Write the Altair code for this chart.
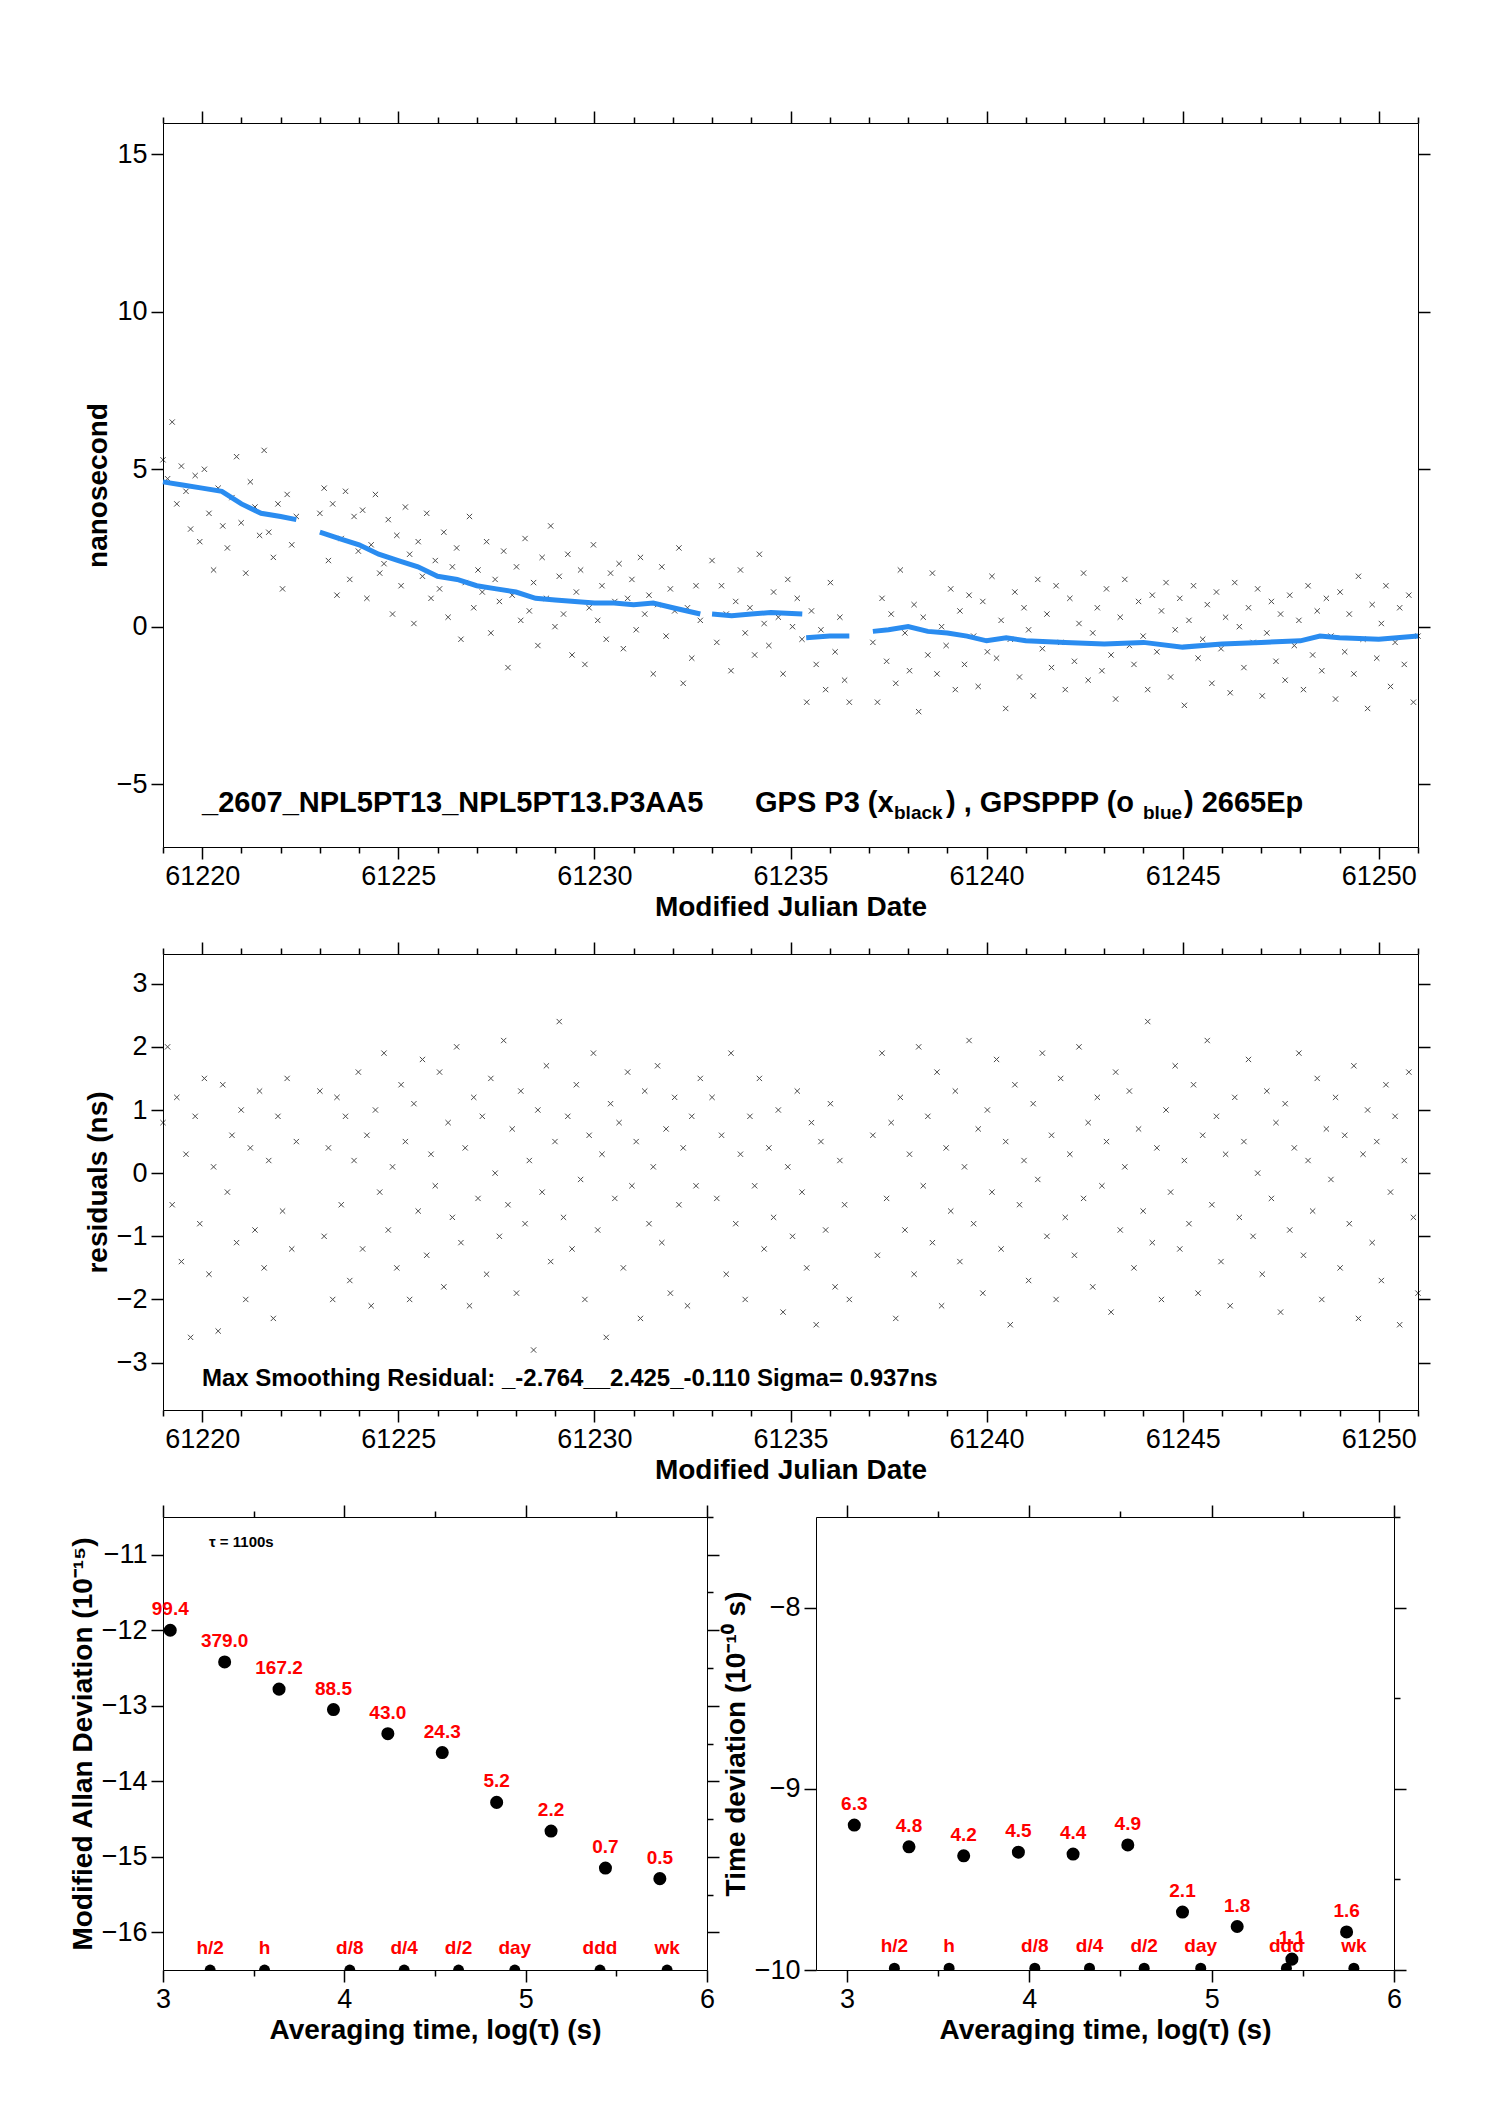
import altair as alt
import numpy as np
import pandas as pd

# segments of the GPS P3 record (MJD start, end)
seg_start = [61219.0, 61223.0, 61233.0, 61237.1]
seg_end = [61222.4, 61232.7, 61236.5, 61251.0]

raw_a = [5.3, 4.7, 6.5, 3.9, 5.1, 4.3, 3.1, 4.8, 2.7, 5.0, 3.6, 1.8, 4.4, 3.2, 2.5,
         4.1, 5.4, 3.3, 1.7, 4.6, 3.8, 2.9, 5.6, 3.0, 2.2, 3.9, 1.2, 4.2, 2.6, 3.5]
raw_b = [3.6, 4.4, 2.1, 3.9, 1.0, 2.8, 4.3, 1.5, 3.5, 2.4, 3.7, 0.9, 2.6, 4.2, 1.7,
         2.0, 3.4, 0.4, 2.9, 1.3, 3.8, 2.3, 0.1, 2.7, 1.6, 3.6, 0.9, 2.1, 1.2, 3.0,
         0.3, 1.9, 2.5, -0.4, 1.4, 3.5, 0.6, 1.8, 1.1, 2.7, -0.2, 1.5, 0.8, 2.4, -1.3,
         1.0, 1.9, 0.2, 2.8, 0.5, 1.4, -0.6, 2.2, 0.9, 3.2, 0.0, 1.6, 0.4, 2.3, -0.9,
         1.1, 1.8, -1.2, 0.6, 2.6, 0.2, 1.3, -0.4, 1.7, 0.8, 2.0, -0.7, 0.9, 1.5, -0.1,
         2.2, 0.4, 1.0, -1.5, 0.7, 1.9, -0.3, 1.2, 0.5, 2.5, -1.8, 0.6, -1.0, 1.3, 0.2]
raw_c = [2.1, -0.5, 1.3, 0.4, -1.4, 0.8, 1.8, -0.2, 0.6, -0.9, 2.3, 0.1, -0.6, 1.1, 0.3,
         -1.5, 1.5, 0.0, 0.9, -0.4, -2.4, 0.5, -1.2, -0.1, -2.0, 1.4, -0.8, 0.3, -1.7, -2.4]
raw_d = [-0.5, -2.4, 0.9, -1.1, 0.4, -1.8, 1.8, -0.2, -1.4, 0.7, -2.7, 0.3, -0.9, 1.7, -1.5,
         0.0, -0.6, 1.2, -2.0, 0.5, -1.2, 1.0, -0.3, -1.9, 0.8, -0.8, 1.6, -1.0, 0.2, -2.6,
         -0.4, 1.1, -1.6, 0.6, -0.1, -2.2, 1.5, -0.7, 0.4, -1.3, 1.3, -0.5, -2.0, 0.9, -1.1,
         0.1, 1.7, -1.7, -0.2, 0.6, -1.4, 1.2, -0.9, -2.3, 0.3, 1.5, -0.6, -1.2, 0.8, -0.3,
         -2.0, 1.0, -0.8, 0.5, 1.4, -1.6, -0.1, 0.9, -2.5, 0.2, 1.3, -1.0, -0.4, 0.7, -1.8,
         1.1, -0.7, 0.3, -2.1, 1.4, 0.0, -1.3, 0.6, -0.5, 1.2, -2.2, -0.2, 0.8, -1.1, 0.4,
         -1.7, 1.0, -0.6, 0.2, -2.0, 1.3, -0.9, 0.5, -1.4, 0.9, -0.3, -2.3, 1.1, -0.8, 0.4,
         -1.5, 1.6, -0.4, -2.6, 0.7, -1.0, 0.1, 1.3, -1.9, -0.5, 0.6, -1.2, 1.0, -2.4, -0.3]

res_a = [0.8, 2.0, -0.5, 1.2, -1.4, 0.3, -2.6, 0.9, -0.8, 1.5, -1.6, 0.1, -2.5, 1.4, -0.3,
         0.6, -1.1, 1.0, -2.0, 0.4, -0.9, 1.3, -1.5, 0.2, -2.3, 0.9, -0.6, 1.5, -1.2, 0.5]
res_b = [1.3, -1.0, 0.4, -2.0, 1.2, -0.5, 0.9, -1.7, 0.2, 1.6, -1.2, 0.6, -2.1, 1.0, -0.3,
         1.9, -0.9, 0.1, -1.5, 1.4, 0.5, -2.0, 1.1, -0.6, 1.8, -1.3, 0.3, -0.2, 1.6, -1.8,
         0.8, -0.7, 2.0, -1.1, 0.4, -2.1, 1.2, -0.4, 0.9, -1.6, 1.5, 0.0, -1.0, 2.1, -0.5,
         0.7, -1.9, 1.3, -0.8, 0.2, -2.8, 1.0, -0.3, 1.7, -1.4, 0.5, 2.4, -0.7, 0.9, -1.2,
         1.4, -0.1, -2.0, 0.6, 1.9, -0.9, 0.3, -2.6, 1.1, -0.4, 0.8, -1.5, 1.6, -0.2, 0.5,
         -2.3, 1.3, -0.8, 0.1, 1.7, -1.1, 0.7, -1.9, 1.2, -0.5, 0.4, -2.1, 0.9, -0.2, 1.5]
res_c = [1.2, -0.4, 0.6, -1.6, 1.9, -0.8, 0.3, -2.0, 0.9, -0.2, 1.5, -1.2, 0.4, -0.7, 1.0,
         -2.2, 0.1, -1.0, 1.3, -0.3, -1.5, 0.8, -2.4, 0.5, -0.9, 1.1, -1.8, 0.2, -0.5, -2.0]
res_d = [0.6, -1.3, 1.9, -0.4, 0.8, -2.3, 1.2, -0.9, 0.3, -1.6, 2.0, -0.2, 0.9, -1.1, 1.6,
         -2.1, 0.4, -0.6, 1.3, -1.4, 0.1, 2.1, -0.8, 0.7, -1.9, 1.0, -0.3, 1.8, -1.2, 0.5,
         -2.4, 1.4, -0.5, 0.2, -1.7, 1.1, -0.1, 1.9, -1.0, 0.6, -2.0, 1.5, -0.7, 0.3, -1.3,
         2.0, -0.4, 0.8, -1.8, 1.2, -0.2, 0.5, -2.2, 1.6, -0.9, 0.1, 1.3, -1.5, 0.7, -0.6,
         2.4, -1.1, 0.4, -2.0, 1.0, -0.3, 1.7, -1.2, 0.2, -0.8, 1.4, -1.9, 0.6, 2.1, -0.5,
         0.9, -1.4, 0.3, -2.1, 1.2, -0.7, 0.5, 1.8, -1.0, 0.0, -1.6, 1.3, -0.4, 0.8, -2.2,
         1.1, -0.9, 0.4, 1.9, -1.3, 0.2, -0.6, 1.5, -2.0, 0.7, -0.1, 1.2, -1.5, 0.6, -0.8,
         1.7, -2.3, 0.3, 1.0, -1.1, 0.5, -1.7, 1.4, -0.3, 0.9, -2.4, 0.2, 1.6, -0.7, -1.9]

# smoothed GPSPPP curve (blue), one knot list per segment
smooth_x = [
    [61219.0, 61219.5, 61220.0, 61220.5, 61221.0, 61221.5, 61222.0, 61222.4],
    [61223.0, 61223.5, 61224.0, 61224.5, 61225.0, 61225.5, 61226.0, 61226.5, 61227.0, 61227.5,
     61228.0, 61228.5, 61229.0, 61229.5, 61230.0, 61230.5, 61231.0, 61231.5, 61232.0, 61232.7],
    [61233.0, 61233.5, 61234.0, 61234.5, 61235.3],
    [61235.4, 61236.0, 61236.5],
    [61237.1, 61237.5, 61238.0, 61238.5, 61239.0, 61239.5, 61240.0, 61240.5, 61241.0, 61242.0,
     61243.0, 61244.0, 61245.0, 61246.0, 61247.0, 61248.0, 61248.5, 61249.0, 61250.0, 61251.0],
]
smooth_y = [
    [4.6, 4.5, 4.4, 4.3, 3.9, 3.6, 3.5, 3.4],
    [3.0, 2.8, 2.6, 2.3, 2.1, 1.9, 1.6, 1.5, 1.3, 1.2,
     1.1, 0.9, 0.85, 0.8, 0.75, 0.75, 0.7, 0.75, 0.6, 0.4],
    [0.4, 0.35, 0.4, 0.45, 0.4],
    [-0.35, -0.3, -0.3],
    [-0.15, -0.1, 0.0, -0.15, -0.2, -0.3, -0.45, -0.35, -0.45, -0.5,
     -0.55, -0.5, -0.65, -0.55, -0.5, -0.45, -0.3, -0.35, -0.4, -0.3],
]

# Allan / time deviation results
log_tau = [3.04, 3.34, 3.64, 3.94, 4.24, 4.54, 4.84, 5.14, 5.44, 5.74]
mdev = [-12.0, -12.42, -12.78, -13.05, -13.37, -13.62, -14.28, -14.66, -15.15, -15.29]
mdev_lbl = ["99.4", "379.0", "167.2", "88.5", "43.0", "24.3", "5.2", "2.2", "0.7", "0.5"]
tdev = [-9.2, -9.32, -9.37, -9.35, -9.36, -9.31, -9.68, -9.76, -9.94, -9.79]
tdev_lbl = ["6.3", "4.8", "4.2", "4.5", "4.4", "4.9", "2.1", "1.8", "1.1", "1.6"]
mark_x = [3.26, 3.56, 4.03, 4.33, 4.63, 4.94, 5.41, 5.78]
mark_lbl = ["h/2", "h", "d/8", "d/4", "d/2", "day", "ddd", "wk"]

FONT = "Liberation Sans"
XSHAPE = "M-1,-1L1,1M1,-1L-1,1"

rows = []
for s, e, r, q in zip(seg_start, seg_end, [raw_a, raw_b, raw_c, raw_d], [res_a, res_b, res_c, res_d]):
    xs = np.linspace(s, e, len(r))
    rows += [{"mjd": x, "ns": v, "res": w} for x, v, w in zip(xs, r, q)]
pts = pd.DataFrame(rows)

sm = pd.DataFrame([
    {"mjd": x, "ns": y, "seg": i}
    for i, (xs, ys) in enumerate(zip(smooth_x, smooth_y)) for x, y in zip(xs, ys)
])


def is_major(step):
    return f"abs(datum.value / {step} - round(datum.value / {step})) < 0.001"


def axis(values, step, labels=True, title=None, orient=None, fmt="d"):
    kw = dict(values=values, tickSize={"condition": {"test": is_major(step), "value": 12}, "value": 6},
              labels=labels, grid=False, labelOverlap=False, labelFlush=False,
              domainColor="black", tickColor="black", tickWidth=1.5,
              labelFont=FONT, labelFontSize=27, labelColor="black", labelPadding=4,
              titleFont=FONT, titleFontSize=28, titleFontWeight="bold", titleColor="black",
              labelExpr=f"{is_major(step)} ? replace(format(datum.value, '{fmt}'), '-', '\u2212') : ''")
    kw["title"] = title if title else ""
    if orient:
        kw["orient"] = orient
    return alt.Axis(**kw)


def frame(xdom, ydom, xvals, xstep, yvals, ystep):
    f = pd.DataFrame({"x": [xdom[0]], "y": [ydom[0]]})
    return alt.Chart(f).mark_point(opacity=0).encode(
        x=alt.X("x:Q", scale=alt.Scale(domain=xdom, nice=False, zero=False),
                axis=axis(xvals, xstep, labels=False, orient="top")),
        y=alt.Y("y:Q", scale=alt.Scale(domain=ydom, nice=False, zero=False),
                axis=axis(yvals, ystep, labels=False, orient="right")),
    )


mjd_dom = [61219.0, 61251.0]
mjd_ticks = list(range(61219, 61252))

# ---------- top panel ----------
top_ydom = [-7, 16]
top_yticks = [-5, 0, 5, 10, 15]
xenc = alt.X("mjd:Q", scale=alt.Scale(domain=mjd_dom, nice=False, zero=False),
             axis=axis(mjd_ticks, 5, title="Modified Julian Date"))
top_y = alt.Y("ns:Q", scale=alt.Scale(domain=top_ydom, nice=False, zero=False),
              axis=axis(top_yticks, 5, title="nanosecond"))
crosses = alt.Chart(pts).mark_point(shape=XSHAPE, size=28, filled=False, stroke="black",
                                    strokeWidth=1).encode(x=xenc, y=top_y)
blue = alt.Chart(sm).mark_line(color="#2a8cf0", strokeWidth=5).encode(
    x=xenc, y=top_y, detail="seg:N")

txt_parts = [("_2607_NPL5PT13_NPL5PT13.P3AA5", 39, 680, 29),
             ("GPS P3 (x", 592, 680, 29), ("black", 731, 690, 19),
             (") ,  GPSPPP (o", 783, 680, 29), ("blue", 980, 690, 19),
             (")  2665Ep", 1021, 680, 29)]
top_txt = [alt.Chart(pd.DataFrame({"t": [t]})).mark_text(
    align="left", font=FONT, fontSize=fs, fontWeight="bold", color="black").encode(
    text="t:N", x=alt.value(x), y=alt.value(y)) for t, x, y, fs in txt_parts]

top = alt.layer(
    alt.layer(crosses, blue, *top_txt),
    frame(mjd_dom, top_ydom, mjd_ticks, 5, top_yticks, 5),
).resolve_scale(x="independent", y="independent").properties(width=1255, height=724)

# ---------- residual panel ----------
mid_ydom = [-3.75, 3.47]
mid_yticks = [-3, -2, -1, 0, 1, 2, 3]
res_pts = alt.Chart(pts).mark_point(shape=XSHAPE, size=28, filled=False, stroke="black",
                                    strokeWidth=1).encode(
    x=xenc,
    y=alt.Y("res:Q", scale=alt.Scale(domain=mid_ydom, nice=False, zero=False),
            axis=axis(mid_yticks, 1, title="residuals (ns)")),
)
mid_txt = alt.Chart(pd.DataFrame({"t": ["Max Smoothing Residual: _-2.764__2.425_-0.110  Sigma= 0.937ns"]})).mark_text(
    align="left", font=FONT, fontSize=24, fontWeight="bold", color="black").encode(
    text="t:N", x=alt.value(39), y=alt.value(425))
mid = alt.layer(
    alt.layer(res_pts, mid_txt),
    frame(mjd_dom, mid_ydom, mjd_ticks, 5, mid_yticks, 1),
).resolve_scale(x="independent", y="independent").properties(width=1255, height=456)


# ---------- bottom panels ----------
def dev_panel(vals, lbls, xdom, ydom, yticks, ytitle, mark_y, width, note=None):
    d = pd.DataFrame({"lt": log_tau, "v": vals, "l": lbls})
    m = pd.DataFrame({"lt": mark_x, "v": [mark_y] * len(mark_x), "l": mark_lbl})
    xt = [3, 3.5, 4, 4.5, 5, 5.5, 6]
    xs = alt.X("lt:Q", scale=alt.Scale(domain=xdom, nice=False, zero=False),
               axis=axis(xt, 1, title="Averaging time, log(\u03c4) (s)"))
    ys = alt.Y("v:Q", scale=alt.Scale(domain=ydom, nice=False, zero=False),
               axis=axis(yticks, 1, title=ytitle))
    dots = alt.Chart(d).mark_circle(size=170, color="black", opacity=1, clip=True).encode(x=xs, y=ys)
    lab = alt.Chart(d).mark_text(dy=-21, font=FONT, fontSize=19, fontWeight="bold", color="red").encode(
        x="lt:Q", y="v:Q", text="l:N")
    mdots = alt.Chart(m).mark_circle(size=120, color="black", opacity=1, clip=True).encode(x="lt:Q", y="v:Q")
    mlab = alt.Chart(m).mark_text(dy=-22, font=FONT, fontSize=19, fontWeight="bold", color="red").encode(
        x="lt:Q", y="v:Q", text="l:N")
    layers = [dots, lab, mdots, mlab]
    if note:
        layers.append(alt.Chart(pd.DataFrame({"t": [note]})).mark_text(
            align="left", font=FONT, fontSize=15, fontWeight="bold", color="black").encode(
            text="t:N", x=alt.value(46), y=alt.value(25)))
    minor = sorted(set(yticks + [y + 0.5 for y in yticks if y + 0.5 <= ydom[1]]))
    return alt.layer(
        alt.layer(*layers),
        frame(xdom, ydom, xt, 1, minor, 1),
    ).resolve_scale(x="independent", y="independent").properties(width=width, height=453)


left = dev_panel(mdev, mdev_lbl, [3, 6], [-16.5, -10.5], [-16, -15, -14, -13, -12, -11],
                 "Modified Allan Deviation (10\u207b\u00b9\u2075)", -16.5, 544, note="\u03c4 = 1100s")
right = dev_panel(tdev, tdev_lbl, [2.83, 6], [-10, -7.5], [-10, -9, -8],
                  "Time deviation (10\u207b\u00b9\u2070 s)", -9.99, 578)

bottom = alt.hconcat(left, right, spacing=0)

chart = alt.vconcat(top, mid, bottom, spacing=18).properties(
    padding={"left": 60, "top": 101, "right": 20, "bottom": 20}
).configure_view(stroke="black", strokeWidth=1.5).configure(background="white")

chart.save("out.html", embed_options={"renderer": "svg", "actions": False})
